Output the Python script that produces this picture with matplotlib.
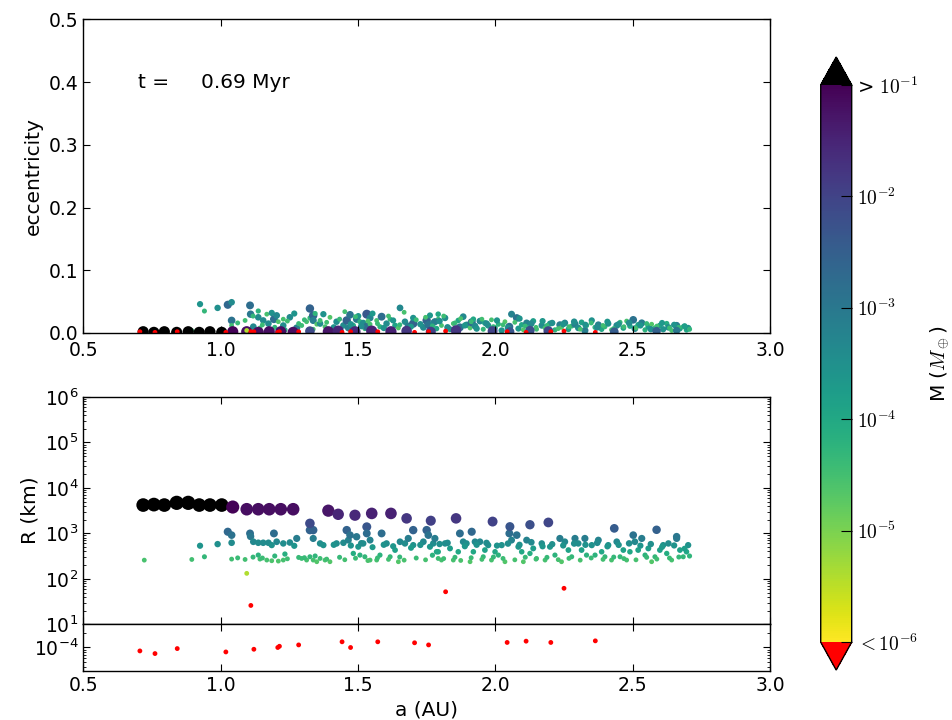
import numpy as np
import matplotlib
matplotlib.use("Agg")
import matplotlib.pyplot as plt
from matplotlib.colors import LogNorm
from matplotlib.cm import ScalarMappable
from matplotlib.ticker import LogLocator, NullFormatter, FormatStrFormatter

# ---------------- data ----------------
time_label = "t =     0.69 Myr"

# large embryos: semi-major axis (AU), radius (km), eccentricity
a_big = [0.718, 0.757, 0.795, 0.840, 0.882, 0.922, 0.961, 1.004,
         1.044, 1.095, 1.137, 1.177, 1.219, 1.264,
         1.325, 1.392, 1.428, 1.489, 1.550, 1.620, 1.677, 1.765,
         1.857, 1.990, 2.053, 2.126, 2.193, 2.433, 2.587, 2.660]
R_big = [4200, 4300, 4200, 4700, 4700, 4200, 4200, 4200,
         3800, 3400, 3400, 3400, 3400, 3400,
         1660, 3160, 2630, 2510, 2750, 2750, 2140, 1900,
         2140, 1820, 1410, 1550, 1740, 1290, 1200, 850]
e_big = [0.002, 0.001, 0.002, 0.001, 0.002, 0.001, 0.002, 0.001,
         0.002, 0.002, 0.001, 0.002, 0.002, 0.001,
         0.003, 0.002, 0.003, 0.002, 0.003, 0.002, 0.003, 0.002,
         0.004, 0.003, 0.002, 0.004, 0.003, 0.002, 0.003, 0.004]

# planetesimals
a_small = [0.722, 0.895, 0.925, 0.941, 0.989, 1.026, 1.040, 1.040, 1.040, 1.089,
           1.107, 1.109, 1.119, 1.137, 1.137, 1.143, 1.155, 1.168, 1.174, 1.186,
           1.186, 1.194, 1.204, 1.210, 1.228, 1.228, 1.234, 1.252, 1.277, 1.295,
           1.313, 1.325, 1.325, 1.337, 1.337, 1.337, 1.350, 1.362, 1.362, 1.374,
           1.380, 1.398, 1.422, 1.447, 1.459, 1.465, 1.471, 1.483, 1.495, 1.501,
           1.507, 1.519, 1.525, 1.532, 1.532, 1.544, 1.544, 1.568, 1.580, 1.586,
           1.604, 1.617, 1.635, 1.647, 1.653, 1.671, 1.683, 1.701, 1.701, 1.738,
           1.750, 1.756, 1.762, 1.774, 1.786, 1.792,
           1.780, 1.792, 1.804, 1.817, 1.835, 1.847, 1.865, 1.871, 1.883, 1.895,
           1.908, 1.914, 1.920, 1.926, 1.944, 1.956, 1.962, 1.974, 1.986, 1.999,
           2.011, 2.023, 2.035, 2.051, 2.059, 2.078, 2.084, 2.096, 2.102, 2.114,
           2.126, 2.138, 2.150, 2.169, 2.181, 2.199, 2.217, 2.235, 2.241, 2.253,
           2.266, 2.278, 2.290, 2.302, 2.314, 2.326, 2.332, 2.351, 2.363, 2.375,
           2.387, 2.399, 2.411, 2.423, 2.442, 2.454, 2.466, 2.478, 2.490, 2.502,
           2.508, 2.520, 2.533, 2.545, 2.557, 2.569, 2.581, 2.599, 2.611, 2.624,
           2.630, 2.642, 2.660, 2.672, 2.684, 2.696, 2.702,
           1.305, 1.344, 1.386, 1.412, 1.433, 1.452, 1.474, 1.491, 1.512, 1.536,
           1.553, 1.571, 1.594, 1.611, 1.628, 1.652, 1.668, 1.693, 1.712, 1.727,
           1.746, 1.771, 1.797, 1.812, 1.826, 1.853, 1.874, 1.889, 1.912, 1.932,
           1.951, 1.968, 1.993, 2.006, 2.028, 2.046, 2.071, 2.088, 2.109, 2.131,
           2.148, 2.172, 2.188, 2.207, 2.229, 2.247, 2.268, 2.287, 2.309, 2.328,
           2.349, 2.371, 2.392, 2.408, 2.431, 2.449, 2.468, 2.487, 2.512, 2.528,
           2.551, 2.566, 2.588, 2.607, 2.634, 2.651, 2.668, 2.689, 2.707,
           1.062, 1.118, 1.152, 1.197, 1.243, 1.268, 1.284]
R_small = [258, 267, 535, 306, 581, 1087, 916, 622, 272, 267,
           998, 857, 655, 622, 333, 272, 622, 259, 622, 552,
           250, 998, 655, 246, 601, 259, 351, 630, 774, 281,
           259, 1180, 306, 1180, 774, 259, 238, 601, 281, 552,
           259, 238, 601, 622, 1180, 711, 916, 362, 843, 508,
           333, 601, 306, 1396, 998, 711, 259, 259, 333, 998,
           601, 306, 430, 238, 655, 601, 774, 1180, 552, 655,
           1180, 916, 508, 601, 394, 281,
           774, 394, 259, 601, 467, 259, 394, 998, 655, 601,
           238, 1087, 394, 655, 655, 306, 430, 552, 259, 394,
           333, 552, 238, 998, 711, 916, 508, 394, 238, 711,
           362, 467, 281, 601, 259, 508, 333, 774, 238, 655,
           430, 306, 774, 601, 430, 774, 333, 552, 333, 711,
           394, 306, 552, 259, 655, 306, 430, 259, 394, 916,
           655, 430, 774, 333, 467, 238, 306, 430, 552, 362,
           601, 259, 774, 430, 306, 394, 552,
           292, 318, 272, 562, 298, 263, 541, 284, 606, 252,
           497, 288, 563, 268, 522, 302, 258, 481, 287, 557,
           262, 331, 584, 279, 618, 298, 254, 521, 291, 563,
           268, 617, 302, 538, 281, 597, 262, 561, 299, 638,
           271, 519, 297, 578, 264, 542, 282, 598, 258, 561,
           288, 621, 268, 517, 301, 558, 279, 603, 262, 537,
           298, 582, 272, 503, 287, 543, 302, 462, 318,
           289, 301, 287, 318, 276, 533, 296]
e_small = [0.006, 0.004, 0.046, 0.035, 0.040, 0.045, 0.020, 0.049, 0.012, 0.020,
           0.044, 0.030, 0.010, 0.025, 0.035, 0.008, 0.020, 0.030, 0.015, 0.032,
           0.006, 0.022, 0.028, 0.018, 0.012, 0.022, 0.005, 0.025, 0.008, 0.012,
           0.018, 0.039, 0.024, 0.028, 0.020, 0.006, 0.014, 0.015, 0.020, 0.030,
           0.010, 0.025, 0.018, 0.012, 0.020, 0.008, 0.029, 0.012, 0.022, 0.027,
           0.018, 0.016, 0.007, 0.030, 0.010, 0.024, 0.014, 0.020, 0.010, 0.026,
           0.015, 0.022, 0.012, 0.008, 0.040, 0.018, 0.011, 0.015, 0.024, 0.009,
           0.020, 0.013, 0.028, 0.016, 0.007, 0.022,
           0.018, 0.030, 0.012, 0.024, 0.006, 0.015, 0.020, 0.009, 0.026, 0.013,
           0.008, 0.017, 0.022, 0.011, 0.019, 0.006, 0.016, 0.012, 0.021, 0.008,
           0.014, 0.004, 0.018, 0.010, 0.030, 0.024, 0.007, 0.013, 0.005, 0.016,
           0.010, 0.019, 0.006, 0.012, 0.008, 0.015, 0.005, 0.013, 0.009, 0.016,
           0.006, 0.011, 0.014, 0.008, 0.017, 0.004, 0.012, 0.020, 0.009, 0.013,
           0.006, 0.010, 0.015, 0.005, 0.012, 0.017, 0.008, 0.019, 0.011, 0.021,
           0.007, 0.013, 0.016, 0.005, 0.010, 0.014, 0.008, 0.012, 0.006, 0.015,
           0.009, 0.004, 0.012, 0.007, 0.010, 0.005, 0.008,
           0.021, 0.031, 0.017, 0.009, 0.022, 0.034, 0.014, 0.026, 0.011, 0.019,
           0.031, 0.015, 0.008, 0.027, 0.020, 0.013, 0.033, 0.010, 0.021, 0.014,
           0.025, 0.011, 0.019, 0.027, 0.009, 0.016, 0.023, 0.012, 0.018, 0.007,
           0.022, 0.015, 0.010, 0.020, 0.013, 0.008, 0.017, 0.023, 0.011, 0.015,
           0.009, 0.019, 0.012, 0.016, 0.007, 0.014, 0.010, 0.018, 0.006, 0.013,
           0.016, 0.009, 0.012, 0.018, 0.007, 0.014, 0.010, 0.016, 0.008, 0.012,
           0.015, 0.006, 0.011, 0.016, 0.008, 0.013, 0.009, 0.011, 0.006,
           0.016, 0.027, 0.013, 0.009, 0.019, 0.031, 0.015]

# small fragments (red / yellow)
a_mid = [1.095, 1.110, 1.819, 2.250]
R_mid = [132, 26, 52, 62]
e_mid = [0.004, 0.002, 0.003, 0.003]

# dust-size particles
a_dust = [0.706, 0.761, 0.842, 1.019, 1.121, 1.208, 1.214, 1.284, 1.442, 1.473,
          1.572, 1.706, 1.757, 2.043, 2.112, 2.202, 2.364]
R_dust = [8.5e-5, 7.5e-5, 9.5e-5, 8.1e-5, 9.2e-5, 1.0e-4, 1.06e-4, 1.13e-4, 1.31e-4, 1.0e-4,
          1.31e-4, 1.25e-4, 1.13e-4, 1.27e-4, 1.35e-4, 1.27e-4, 1.37e-4]
e_dust = [0.002, 0.001, 0.002, 0.001, 0.002, 0.001, 0.002, 0.002, 0.001, 0.002,
          0.002, 0.001, 0.002, 0.002, 0.001, 0.002, 0.001]

density = 2.4          # g / cm^3
earth_mass_g = 5.972e27

cb_ticks = [1e-6, 1e-5, 1e-4, 1e-3, 1e-2, 1e-1]
cb_labels = [r"$<10^{-6}$", r"$10^{-5}$", r"$10^{-4}$", r"$10^{-3}$",
             r"$10^{-2}$", r"> $10^{-1}$"]
x_ticks = [0.5, 1.0, 1.5, 2.0, 2.5, 3.0]
e_ticks = [0.0, 0.1, 0.2, 0.3, 0.4, 0.5]

# ---------------- style ----------------
plt.rcParams.update({
    "font.family": "DejaVu Sans",
    "mathtext.fontset": "dejavusans",
    "xtick.direction": "in", "ytick.direction": "in",
    "xtick.top": True, "ytick.right": True,
    "xtick.major.size": 5, "ytick.major.size": 5,
    "xtick.minor.size": 2.5, "ytick.minor.size": 2.5,
    "xtick.labelsize": 13.5, "ytick.labelsize": 13.5,
    "axes.labelsize": 14.5,
    "axes.linewidth": 1.0,
})

a_all = np.array(a_small + a_big + a_mid + a_dust)
R_all = np.array(R_small + R_big + R_mid + R_dust, dtype=float)
e_all = np.array(e_small + e_big + e_mid + e_dust)
M_all = 4.0 / 3.0 * np.pi * (R_all * 1e5) ** 3 * density / earth_mass_g

size_bottom = np.clip(13 * (R_all / 300.0) ** 0.76, 12, None)
size_top = np.clip(size_bottom, None, 65)

cmap = plt.get_cmap("viridis_r").copy()
cmap.set_over("black")
cmap.set_under("red")
norm = LogNorm(vmin=1e-6, vmax=1e-1)

fig = plt.figure(figsize=(9.53, 7.2), dpi=100)
ax1 = fig.add_axes([0.0874, 0.5375, 0.7206, 0.4357])
ax2 = fig.add_axes([0.0874, 0.1329, 0.7206, 0.3157])
ax3 = fig.add_axes([0.0874, 0.0685, 0.7206, 0.0644])
cax = fig.add_axes([0.8612, 0.0694, 0.0325, 0.8514])

# top: eccentricity
ax1.scatter(a_all, e_all, c=M_all, cmap=cmap, norm=norm, s=size_top, linewidths=0)
ax1.set_xlim(0.5, 3.0)
ax1.set_ylim(0.0, 0.5)
ax1.set_xticks(x_ticks)
ax1.set_yticks(e_ticks)
ax1.xaxis.set_major_formatter(FormatStrFormatter("%.1f"))
ax1.yaxis.set_major_formatter(FormatStrFormatter("%.1f"))
ax1.tick_params(axis="x", pad=6)
ax1.set_ylabel("eccentricity")
ax1.text(0.7, 0.4, time_label, fontsize=14.5, va="center", ha="left")

# middle: radius
ax2.scatter(a_all, R_all, c=M_all, cmap=cmap, norm=norm, s=size_bottom, linewidths=0)
ax2.set_yscale("log")
ax2.set_xlim(0.5, 3.0)
ax2.set_ylim(10, 1e6)
ax2.set_xticks(x_ticks)
ax2.tick_params(axis="x", labelbottom=False)
ax2.yaxis.set_major_locator(LogLocator(base=10, numticks=10))
ax2.yaxis.set_minor_locator(LogLocator(base=10, subs=np.arange(2, 10), numticks=20))
ax2.yaxis.set_minor_formatter(NullFormatter())
ax2.set_ylabel("R (km)")

# bottom strip: dust
ax3.scatter(a_all, R_all, c=M_all, cmap=cmap, norm=norm, s=size_bottom, linewidths=0)
ax3.set_yscale("log")
ax3.set_xlim(0.5, 3.0)
ax3.set_ylim(1e-4 / 3, 3e-4)
ax3.set_xticks(x_ticks)
ax3.xaxis.set_major_formatter(FormatStrFormatter("%.1f"))
ax3.yaxis.set_major_locator(LogLocator(base=10, numticks=10))
ax3.yaxis.set_minor_locator(LogLocator(base=10, subs=np.arange(2, 10), numticks=20))
ax3.yaxis.set_minor_formatter(NullFormatter())
ax3.set_xlabel("a (AU)")

# colorbar
sm = ScalarMappable(norm=norm, cmap=cmap)
cb = fig.colorbar(sm, cax=cax, extend="both", ticks=cb_ticks)
cb.ax.minorticks_off()
cb.ax.set_yticklabels(cb_labels)
cb.ax.tick_params(direction="in", length=8, labelsize=14)
for t in cb.ax.get_yticklabels():
    t.set_math_fontfamily("cm")
cb.outline.set_linewidth(1.0)
cb.set_label(r"M ($M_\oplus$)", fontsize=14.5, labelpad=8)
cb.ax.yaxis.label.set_math_fontfamily("cm")

fig.savefig("out.png", dpi=100, facecolor="white")
